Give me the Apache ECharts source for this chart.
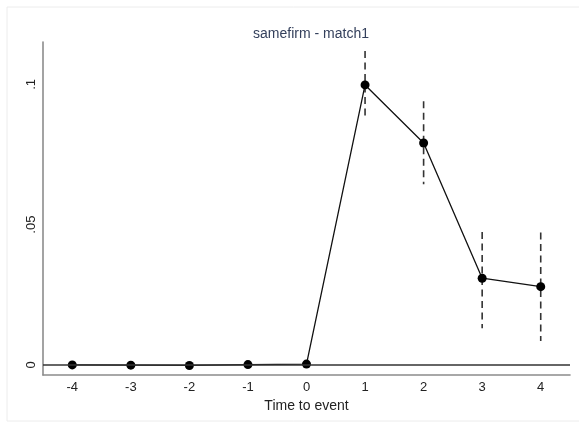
<!DOCTYPE html>
<html>
<head>
<meta charset="utf-8">
<script src="https://cdn.jsdelivr.net/npm/echarts@6/dist/echarts.min.js"></script>
<style>
  html, body { margin: 0; padding: 0; background: #fff; }
  #chart { width: 579px; height: 423px; }
</style>
</head>
<body>
<div id="chart"></div>
<script>
// Event-study estimates: time relative to the event, point estimates and 95% bounds
const eventTime = [-4, -3, -2, -1, 0, 1, 2, 3, 4];
const coef      = [0, -0.0001, -0.0002, 0.0001, 0.0003, 0.0998, 0.0791, 0.0309, 0.0279];
const ciLow     = [null, null, null, null, null, 0.0878, 0.0644, 0.0131, 0.0085];
const ciHigh    = [null, null, null, null, null, 0.1119, 0.0940, 0.0474, 0.0472];
const xTicks    = [-4, -3, -2, -1, 0, 1, 2, 3, 4];
const yTicks    = [0, 0.05, 0.1];

const pointData = eventTime.map((t, i) => [t, coef[i]]);
const ciData = eventTime
  .map((t, i) => [t, ciLow[i], ciHigh[i]])
  .filter(d => d[1] !== null && d[2] !== null);

// Stata-style tick labels: ".05" rather than "0.05"
const stataNum = v => {
  const s = String(+v.toFixed(4));
  return s.replace(/^0\./, '.').replace(/^-0\./, '-.');
};

const chart = echarts.init(document.getElementById('chart'), null, { renderer: 'canvas' });
const font = '"Liberation Sans", Arial, sans-serif';

chart.setOption({
  animation: false,
  backgroundColor: '#ffffff',
  textStyle: { fontFamily: font },
  graphic: [{
    type: 'rect',
    silent: true,
    shape: { x: 7, y: 7, width: 600, height: 414 },
    style: { fill: null, stroke: '#ececec', lineWidth: 1 }
  }],
  title: {
    text: 'samefirm - match1',
    left: 306,
    top: 22,
    textAlign: 'center',
    textStyle: { fontFamily: font, fontSize: 14, fontWeight: 'normal', color: '#34405c' }
  },
  grid: { left: 43, right: 9, top: 42, bottom: 48 },
  xAxis: {
    type: 'value',
    min: -4.5,
    max: 4.5,
    name: 'Time to event',
    nameLocation: 'middle',
    nameGap: 20,
    nameTextStyle: { fontFamily: font, fontSize: 14, color: '#222', verticalAlign: 'top' },
    axisLine: { show: true, onZero: false, lineStyle: { color: '#8c8c8c', width: 1.6 } },
    axisTick: { show: false },
    splitLine: { show: false },
    axisLabel: {
      customValues: xTicks,
      margin: 6,
      fontFamily: font,
      fontSize: 13,
      color: '#222',
      formatter: v => String(v)
    }
  },
  yAxis: {
    type: 'value',
    min: -0.0036,
    max: 0.1151,
    axisLine: { show: true, onZero: false, lineStyle: { color: '#8c8c8c', width: 1.6 } },
    axisTick: { show: false },
    splitLine: { show: false },
    axisLabel: {
      customValues: yTicks,
      rotate: 90,
      margin: 5,
      fontFamily: font,
      fontSize: 13,
      color: '#222',
      formatter: v => stataNum(v)
    }
  },
  series: [
    {
      name: 'ci',
      type: 'custom',
      data: ciData,
      z: 2,
      renderItem: (params, api) => {
        const x = api.value(0);
        const pLo = api.coord([x, api.value(1)]);
        const pHi = api.coord([x, api.value(2)]);
        return {
          type: 'line',
          shape: { x1: pHi[0], y1: pHi[1], x2: pLo[0], y2: pLo[1] },
          style: { stroke: '#333', lineWidth: 1.6, lineDash: [7, 4.5] }
        };
      }
    },
    {
      name: 'estimate',
      type: 'line',
      data: pointData,
      z: 3,
      symbol: 'circle',
      symbolSize: 9,
      itemStyle: { color: '#000' },
      lineStyle: { color: '#111', width: 1.3 },
      markLine: {
        silent: true,
        symbol: ['none', 'none'],
        label: { show: false },
        lineStyle: { color: '#333', width: 1.6, type: 'solid' },
        data: [{ yAxis: 0 }]
      }
    }
  ]
});
</script>
</body>
</html>
